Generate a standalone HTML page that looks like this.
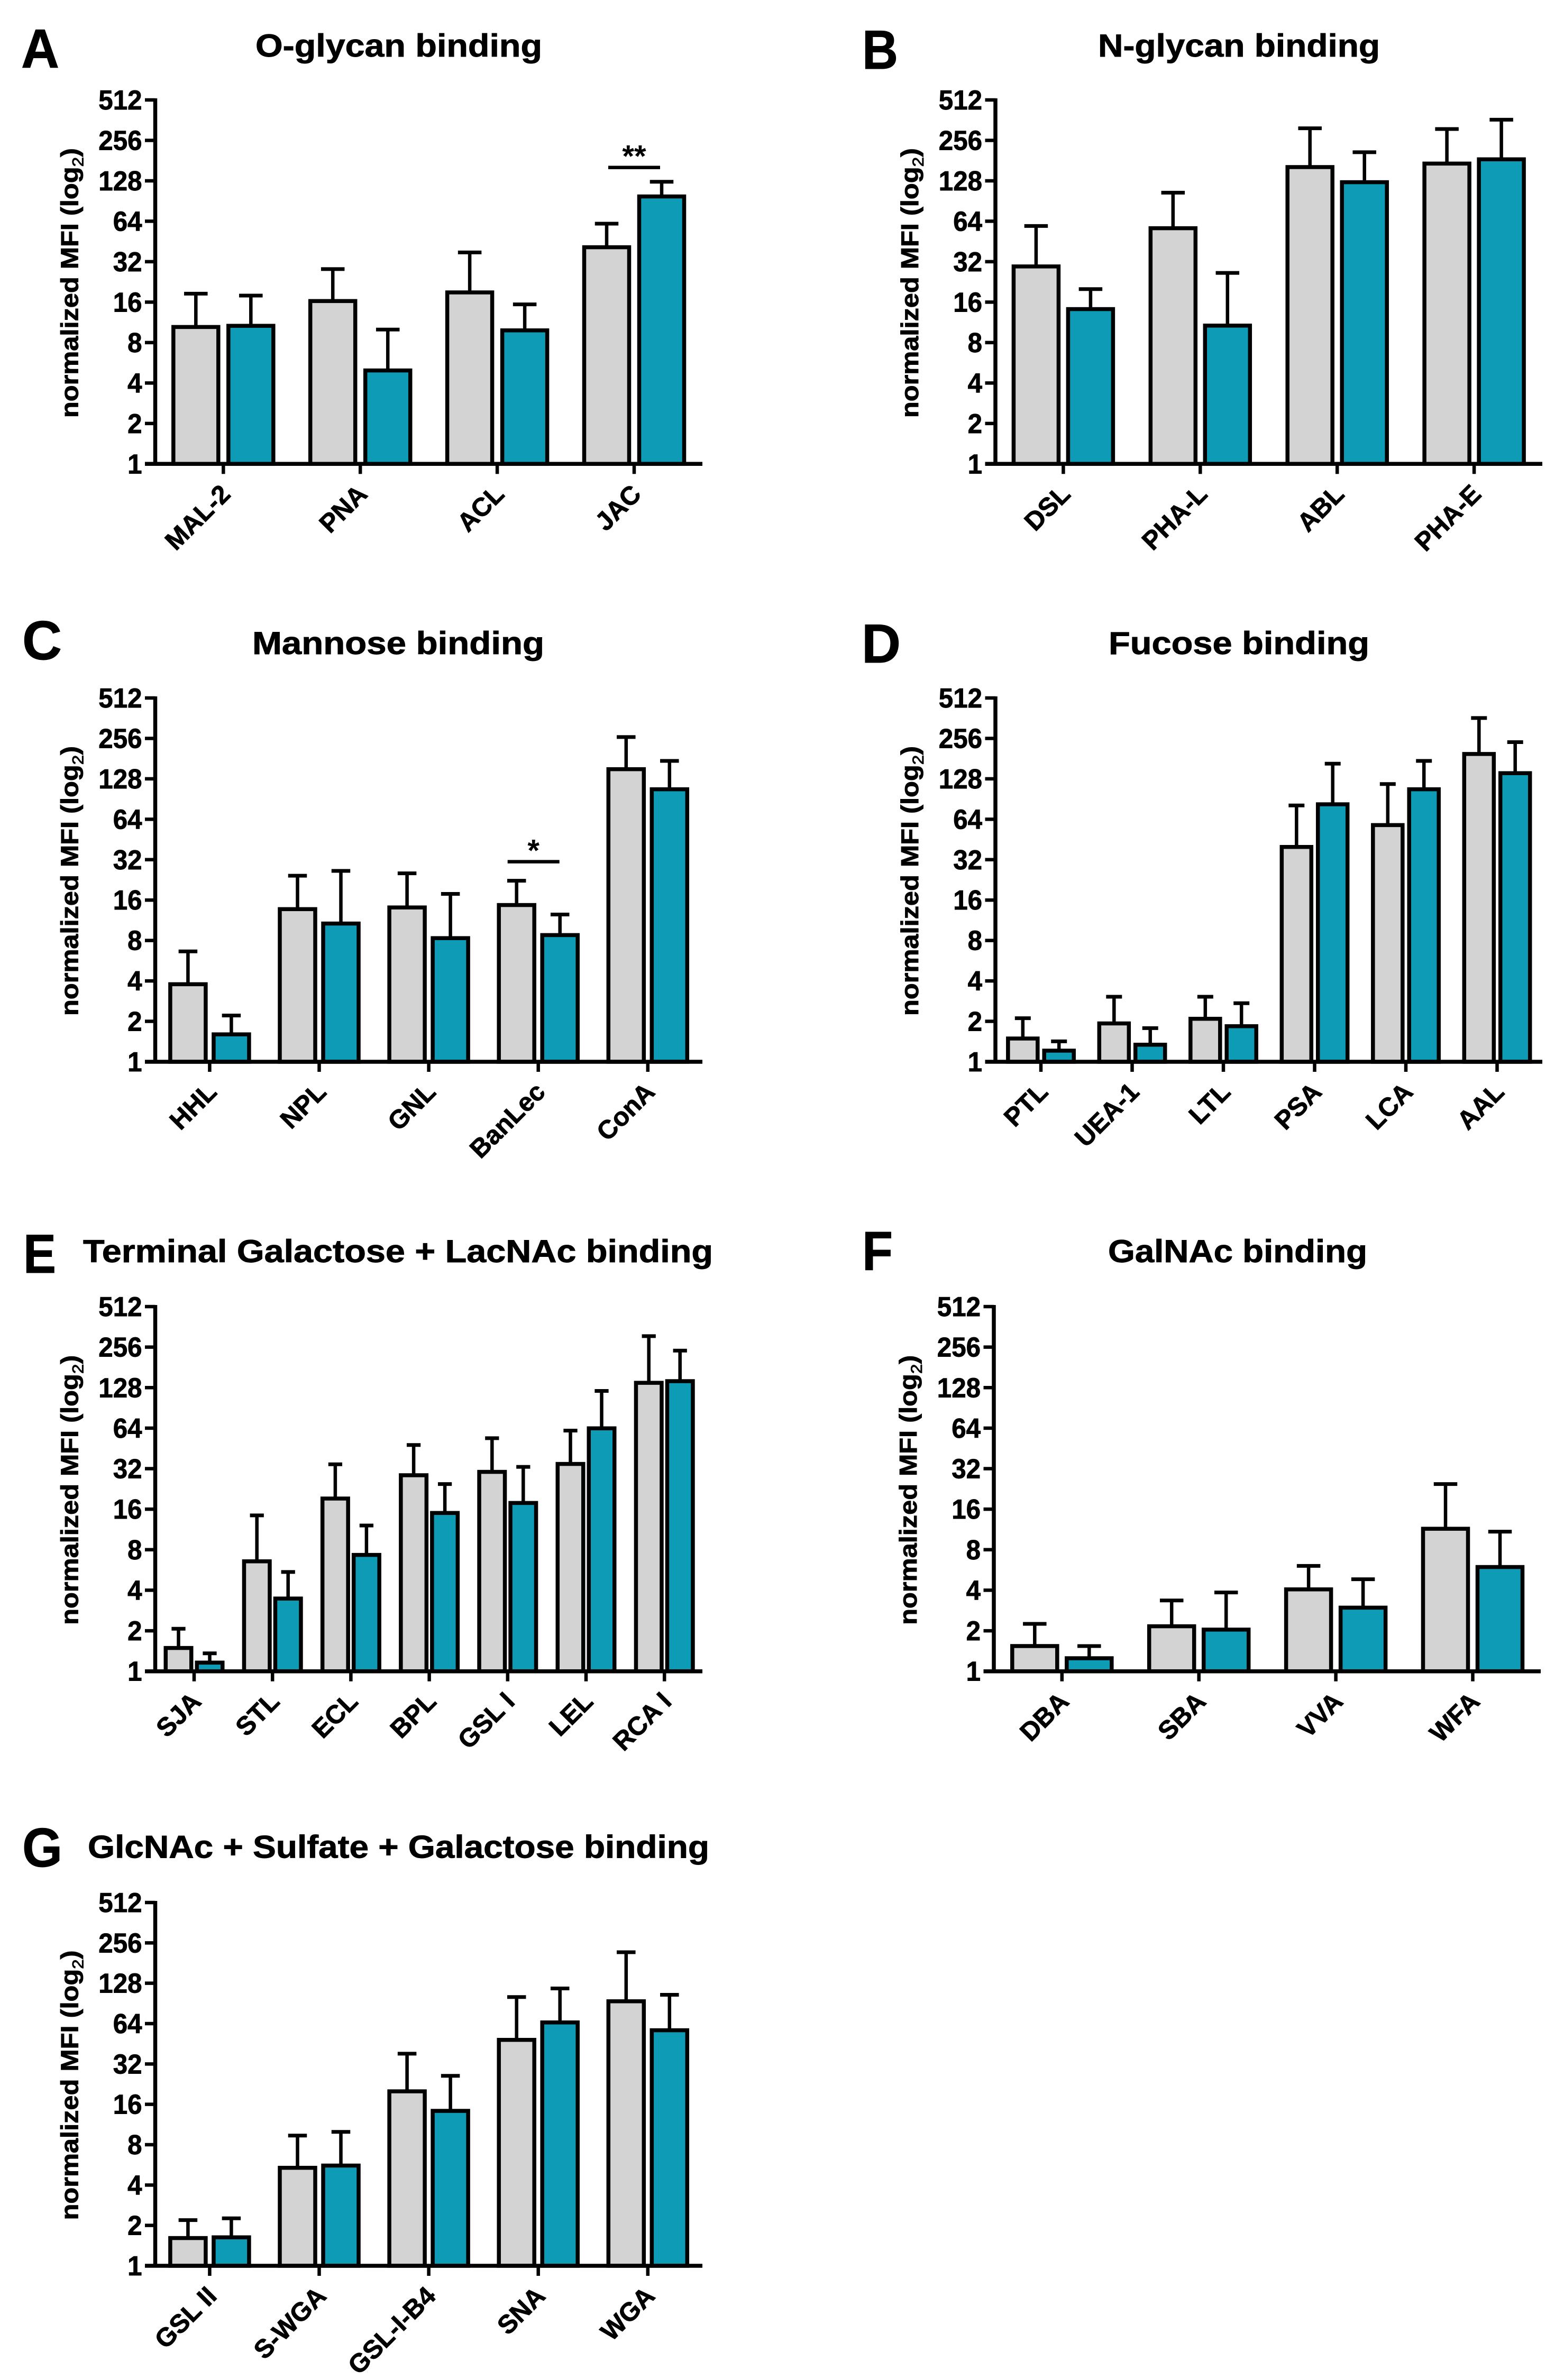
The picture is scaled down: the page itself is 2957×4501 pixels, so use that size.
<!DOCTYPE html>
<html lang="en">
<head>
<meta charset="utf-8">
<title>Lectin binding panels</title>
<style>
html,body{margin:0;padding:0;background:#fff}
svg{display:block}
text{font-family:"Liberation Sans",Arial,sans-serif;font-weight:700;fill:#000;stroke:#000;stroke-width:.9px}
text.star{stroke:none}
</style>
</head>
<body>
<svg id="figure" xmlns="http://www.w3.org/2000/svg" width="2957" height="4501" viewBox="0 0 2957 4501"></svg>
<script>
const yTickValues = [1, 2, 4, 8, 16, 32, 64, 128, 256, 512];

const aCategories = ["MAL-2", "PNA", "ACL", "JAC"];
const aGrey = [10.45, 16.3, 18.9, 41];
const aGreyUpper = [18.5, 28.2, 37.5, 61.4];
const aTeal = [10.66, 4.96, 9.86, 97.9];
const aTealUpper = [17.9, 10.0, 15.4, 126];

const bCategories = ["DSL", "PHA-L", "ABL", "PHA-E"];
const bGrey = [29.5, 56.8, 162, 172];
const bGreyUpper = [59.0, 104.5, 315, 311];
const bTeal = [14.2, 10.7, 125, 185];
const bTealUpper = [20.0, 26.4, 209, 365];

const cCategories = ["HHL", "NPL", "GNL", "BanLec", "ConA"];
const cGrey = [3.78, 13.7, 14.1, 14.7, 151];
const cGreyUpper = [6.64, 24.3, 25.3, 22.3, 262];
const cTeal = [1.60, 10.7, 8.33, 8.78, 107];
const cTealUpper = [2.21, 26.4, 17.8, 12.5, 174];

const dCategories = ["PTL", "UEA-1", "LTL", "PSA", "LCA", "AAL"];
const dGrey = [1.49, 1.93, 2.09, 39.8, 57.9, 196];
const dGreyUpper = [2.11, 3.05, 3.05, 81.1, 117, 363];
const dTeal = [1.21, 1.34, 1.84, 82.7, 107, 141];
const dTealUpper = [1.42, 1.78, 2.73, 166, 174, 240];

const eCategories = ["SJA", "STL", "ECL", "BPL", "GSL I", "LEL", "RCA I"];
const eGrey = [1.49, 6.56, 19.2, 28.6, 30.3, 34.7, 139];
const eGreyUpper = [2.07, 14.4, 34.5, 48, 53.9, 61.4, 309];
const eTeal = [1.16, 3.47, 7.32, 15.0, 17.8, 63.8, 143];
const eTealUpper = [1.36, 5.47, 12.1, 24.6, 33, 121, 241];

const fCategories = ["DBA", "SBA", "VVA", "WFA"];
const fGrey = [1.54, 2.16, 4.06, 11.45];
const fGreyUpper = [2.25, 3.36, 6.07, 24.6];
const fTeal = [1.25, 2.04, 2.97, 5.95];
const fTealUpper = [1.54, 3.85, 4.83, 10.9];

const gCategories = ["GSL II", "S-WGA", "GSL-I-B4", "SNA", "WGA"];
const gGrey = [1.61, 5.38, 20.0, 48.4, 93.9];
const gGreyUpper = [2.19, 9.36, 38.2, 101, 218];
const gTeal = [1.63, 5.59, 14.3, 65.3, 57.1];
const gTealUpper = [2.26, 9.97, 26.1, 117, 105];

const panels = [
  {id:"a", letter:"A", title:"O-glycan binding", cats:aCategories, grey:aGrey, greyUp:aGreyUpper, teal:aTeal, tealUp:aTealUpper,
   axisX:293.5, top:189, bottom:877.3, right:1328, firstTick:422.3, step:258.9, barW:85, off:52,
   letterX:40, letterY:128, letterW:72, titleX:483, titleY:107, titleW:542,
   sig:{label:"**", group:3, gap:27, dx:0}},
  {id:"b", letter:"B", title:"N-glycan binding", cats:bCategories, grey:bGrey, greyUp:bGreyUpper, teal:bTeal, tealUp:bTealUpper,
   axisX:1882, top:189, bottom:877.3, right:2916, firstTick:2010.4, step:258.9, barW:85, off:51.5,
   letterX:1630, letterY:130, letterW:68, titleX:2076, titleY:107, titleW:533},
  {id:"c", letter:"C", title:"Mannose binding", cats:cCategories, grey:cGrey, greyUp:cGreyUpper, teal:cTeal, tealUp:cTealUpper,
   axisX:293.5, top:1320, bottom:2008, right:1328, firstTick:396.4, step:207.1, barW:67, off:41,
   letterX:42, letterY:1247, letterW:75, titleX:477, titleY:1237, titleW:552,
   sig:{label:"*", group:3, gap:36, dx:-9}},
  {id:"d", letter:"D", title:"Fucose binding", cats:dCategories, grey:dGrey, greyUp:dGreyUpper, teal:dTeal, tealUp:dTealUpper,
   axisX:1882, top:1320, bottom:2008, right:2916, firstTick:1968, step:172.5, barW:56, off:34.2,
   letterX:1629, letterY:1253, letterW:74, titleX:2096, titleY:1237, titleW:493},
  {id:"e", letter:"E", title:"Terminal Galactose + LacNAc binding", cats:eCategories, grey:eGrey, greyUp:eGreyUpper, teal:eTeal, tealUp:eTealUpper,
   axisX:293.5, top:2471, bottom:3160.7, right:1328, firstTick:367, step:148.2, barW:48.5, off:29.5,
   letterX:44, letterY:2407, letterW:62, titleX:157, titleY:2387, titleW:1191},
  {id:"f", letter:"F", title:"GalNAc binding", cats:fCategories, grey:fGrey, greyUp:fGreyUpper, teal:fTeal, tealUp:fTealUpper,
   axisX:1879, top:2471, bottom:3160.7, right:2913, firstTick:2007.8, step:258.9, barW:85, off:51.5,
   letterX:1630, letterY:2402, letterW:58, titleX:2095, titleY:2387, titleW:490},
  {id:"g", letter:"G", title:"GlcNAc + Sulfate + Galactose binding", cats:gCategories, grey:gGrey, greyUp:gGreyUpper, teal:gTeal, tealUp:gTealUpper,
   axisX:293.5, top:3598, bottom:4285, right:1328, firstTick:396.4, step:207.1, barW:67, off:41,
   letterX:42, letterY:3530, letterW:76, titleX:166, titleY:3513.5, titleW:1175}
];

const NS = "http://www.w3.org/2000/svg";
const INK = "#000";
const GREY_FILL = "#d3d3d3";
const TEAL_FILL = "#0e9bb5";
const STROKE = 7.5;

function add(parent, tag, props) {
  const node = document.createElementNS(NS, tag);
  for (const k in props) node.setAttribute(k, props[k]);
  parent.appendChild(node);
  return node;
}

function yScale(p, v) {
  return p.bottom - Math.log2(v) * (p.bottom - p.top) / 9;
}

function xScale(p, i) {
  return p.firstTick + i * p.step;
}

function drawBar(g, p, cx, value, upper, fill, name) {
  const yTop = yScale(p, value);
  const yErr = yScale(p, upper);
  const capHalf = p.barW / 4 + 1;

  const stem = add(g, "line", {x1:cx, x2:cx, y1:yErr, y2:yTop, stroke:INK, "stroke-width":6.5});
  
  

  const cap = add(g, "line", {x1:cx - capHalf, x2:cx + capHalf, y1:yErr, y2:yErr, stroke:INK, "stroke-width":7});
  
  

  const rect = add(g, "rect", {x:cx - p.barW / 2, y:yTop, width:p.barW, height:p.bottom - yTop, fill:fill, stroke:INK, "stroke-width":STROKE});
  
  
}

function drawPanel(svg, p) {
  const g = add(svg, "g", {});
  
  

  const letter = add(g, "text", {x:p.letterX, y:p.letterY, "font-size":104, textLength:p.letterW, lengthAdjust:"spacingAndGlyphs"});
  letter.textContent = p.letter;
  
  

  const title = add(g, "text", {x:p.titleX, y:p.titleY, "font-size":60, textLength:p.titleW, lengthAdjust:"spacingAndGlyphs"});
  title.textContent = p.title;
  
  

  const mid = (p.top + p.bottom) / 2;
  const yTitle = add(g, "text", {transform:"translate(" + (p.axisX - 146) + "," + (mid + 2) + ") rotate(-90)", "text-anchor":"middle", "font-size":46, textLength:510, lengthAdjust:"spacingAndGlyphs"});
  yTitle.appendChild(document.createTextNode("normalized MFI (log"));
  const sub = add(yTitle, "tspan", {dy:10, "font-size":30, "font-weight":400});
  sub.textContent = "2";
  const close = add(yTitle, "tspan", {dy:-10});
  close.textContent = ")";
  
  

  yTickValues.forEach(function (v) {
    const y = yScale(p, v);
    const tick = add(g, "line", {x1:p.axisX - 19.5, x2:p.axisX, y1:y, y2:y, stroke:INK, "stroke-width":6.5});
    
    
    const label = String(v);
    const t = add(g, "text", {x:p.axisX - 25, y:y + 18, "text-anchor":"end", "font-size":52, textLength:label.length * 27.4, lengthAdjust:"spacingAndGlyphs"});
    t.textContent = label;
    
    
  });

  p.cats.forEach(function (cat, i) {
    const cx = xScale(p, i);
    drawBar(g, p, cx - p.off, p.grey[i], p.greyUp[i], GREY_FILL, 'bar-' + cat + '-grey');
    drawBar(g, p, cx + p.off, p.teal[i], p.tealUp[i], TEAL_FILL, 'bar-' + cat + '-teal');

    const tick = add(g, "line", {x1:cx, x2:cx, y1:p.bottom, y2:p.bottom + 19, stroke:INK, "stroke-width":6.5});
    
    

    const t = add(g, "text", {transform:"translate(" + (cx + 16) + "," + (p.bottom + 60) + ") rotate(-45)", "text-anchor":"end", "font-size":49});
    t.textContent = cat;
    
    
  });

  const yAxis = add(g, "line", {x1:p.axisX, x2:p.axisX, y1:p.top - 3, y2:p.bottom, stroke:INK, "stroke-width":STROKE});
  
  

  const xAxis = add(g, "line", {x1:p.axisX - 19.5, x2:p.right, y1:p.bottom, y2:p.bottom, stroke:INK, "stroke-width":7.5});
  
  

  if (p.sig) {
    const cx = xScale(p, p.sig.group) + p.sig.dx;
    const y = Math.min(yScale(p, p.greyUp[p.sig.group]), yScale(p, p.tealUp[p.sig.group])) - p.sig.gap;
    const line = add(g, "line", {x1:cx - 49, x2:cx + 49, y1:y, y2:y, stroke:INK, "stroke-width":6.5});
    
    
    const star = add(g, "text", {class:"star", x:cx, y:y - 1, "text-anchor":"middle", "font-size":58, "font-weight":400});
    star.textContent = p.sig.label;
    
    
  }
}

const figure = document.getElementById("figure");
panels.forEach(function (p) { drawPanel(figure, p); });
</script>
</body>
</html>
